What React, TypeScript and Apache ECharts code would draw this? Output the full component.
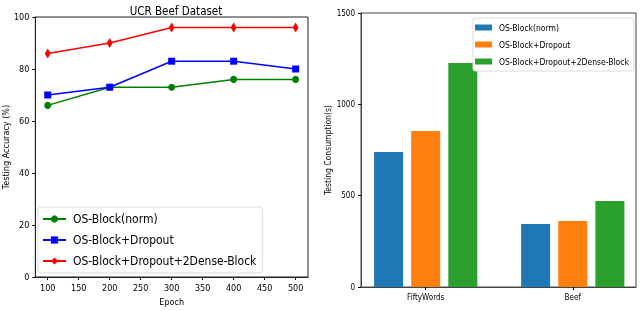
import React, { useEffect, useRef } from "react";
import * as echarts from "echarts";

const epochs = [100, 200, 300, 400, 500];
const normAcc = [66, 73, 73, 76, 76];
const dropoutAcc = [70, 73, 83, 83, 80];
const denseAcc = [86, 90, 96, 96, 96];

const datasets = ["FiftyWords", "Beef"];
const normTime = [739, 345];
const dropoutTime = [854, 361];
const denseTime = [1226, 471];

const seriesNames = [
  "OS-Block(norm)",
  "OS-Block+Dropout",
  "OS-Block+Dropout+2Dense-Block",
];

const FONT = "'DejaVu Sans Condensed', 'Liberation Sans Narrow', 'DejaVu Sans'";

export default function App() {
  const ref = useRef<HTMLDivElement>(null);
  useEffect(() => {
    if (!ref.current) return;
    const chart = echarts.init(ref.current, undefined, { renderer: "svg" });
    const thinDiamond = "path://M0,-10L6,0L0,10L-6,0Z";
    const pair = (xs: number[], ys: number[]) => xs.map((x, i) => [x, ys[i]]);
    const barData = (ys: number[]) => ys.map((y, i) => [i, y]);
    chart.setOption({
      animation: false,
      textStyle: { fontFamily: FONT },
      title: {
        text: "UCR Beef Dataset",
        left: 171,
        textAlign: "center",
        top: 0,
        textStyle: { fontFamily: FONT, fontSize: 11.5, fontWeight: "normal", color: "#000" },
      },
      grid: [
        { left: 34, right: 332, top: 17, bottom: 31, show: true, borderColor: "#222", borderWidth: 1, backgroundColor: "transparent" },
        { left: 361, right: 4, top: 13, bottom: 24, show: true, borderColor: "#444", borderWidth: 1, backgroundColor: "transparent" },
      ],
      xAxis: [
        {
          gridIndex: 0,
          type: "value",
          min: 80,
          max: 520,
          axisLabel: { customValues: [100, 150, 200, 250, 300, 350, 400, 450, 500], fontSize: 9, color: "#000", margin: 6, fontFamily: FONT },
          axisTick: { customValues: [100, 150, 200, 250, 300, 350, 400, 450, 500], show: true, length: 3, lineStyle: { color: "#000" } },
          axisLine: { show: true, onZero: false, lineStyle: { color: "#222" } },
          splitLine: { show: false },
          name: "Epoch",
          nameLocation: "middle",
          nameGap: 20,
          nameTextStyle: { fontSize: 9, color: "#000", fontFamily: FONT },
        },
        {
          gridIndex: 1,
          type: "value",
          min: -0.44,
          max: 1.43,
          axisLabel: {
            customValues: [0, 1],
            fontSize: 8,
            color: "#000",
            margin: 6,
            fontFamily: FONT,
            formatter: (v: number) => datasets[Math.round(v)] ?? "",
          },
          axisTick: { customValues: [0, 1], show: true, length: 3, lineStyle: { color: "#000" } },
          axisLine: { show: true, onZero: false, lineStyle: { color: "#444" } },
          splitLine: { show: false },
        },
      ],
      yAxis: [
        {
          gridIndex: 0,
          type: "value",
          min: 0,
          max: 100,
          interval: 20,
          axisLabel: { fontSize: 9, color: "#000", margin: 6, fontFamily: FONT },
          axisTick: { show: true, length: 3, lineStyle: { color: "#000" } },
          axisLine: { show: true, onZero: false, lineStyle: { color: "#222" } },
          splitLine: { show: false },
          name: "Testing Accuracy (%)",
          nameLocation: "middle",
          nameGap: 23,
          nameTextStyle: { fontSize: 9, color: "#000", fontFamily: FONT },
        },
        {
          gridIndex: 1,
          type: "value",
          min: 0,
          max: 1500,
          interval: 500,
          axisLabel: { fontSize: 8, color: "#000", margin: 6, fontFamily: FONT, formatter: (v: number) => String(v) },
          axisTick: { show: true, length: 3, lineStyle: { color: "#000" } },
          axisLine: { show: true, onZero: false, lineStyle: { color: "#444" } },
          splitLine: { show: false },
          name: "Testing Consumption(s)",
          nameLocation: "middle",
          nameGap: 25,
          nameTextStyle: { fontSize: 8.5, color: "#000", fontFamily: FONT },
        },
      ],
      legend: [
        {
          data: seriesNames.map((n) => n + " "),
          orient: "vertical",
          left: 38,
          top: 207,
          itemWidth: 23,
          itemHeight: 9,
          itemGap: 9,
          padding: [6, 3, 6, 4],
          backgroundColor: "#fff",
          borderColor: "#ddd",
          borderWidth: 1,
          borderRadius: 3,
          textStyle: { fontSize: 12, color: "#000", fontFamily: FONT, padding: [0, 0, 0, 2] },
        },
        {
          data: seriesNames,
          orient: "vertical",
          left: 473,
          top: 18,
          itemWidth: 17,
          itemHeight: 6,
          itemGap: 8,
          icon: "rect",
          padding: [5, 5, 5, 2],
          backgroundColor: "#fff",
          borderColor: "#ddd",
          borderWidth: 1,
          borderRadius: 2,
          textStyle: { fontSize: 8.5, color: "#000", fontFamily: FONT, padding: [0, 0, 0, 2] },
        },
      ],
      series: [
        {
          name: seriesNames[0] + " ",
          type: "line",
          xAxisIndex: 0,
          yAxisIndex: 0,
          data: pair(epochs, normAcc),
          color: "#008000",
          symbol: "circle",
          symbolSize: 7,
          lineStyle: { width: 1.5 },
        },
        {
          name: seriesNames[1] + " ",
          type: "line",
          xAxisIndex: 0,
          yAxisIndex: 0,
          data: pair(epochs, dropoutAcc),
          color: "#0000ff",
          symbol: "rect",
          symbolSize: 7,
          lineStyle: { width: 1.5 },
        },
        {
          name: seriesNames[2] + " ",
          type: "line",
          xAxisIndex: 0,
          yAxisIndex: 0,
          data: pair(epochs, denseAcc),
          color: "#ff0000",
          symbol: thinDiamond,
          symbolSize: [6, 10],
          lineStyle: { width: 1.5 },
        },
        {
          name: seriesNames[0],
          type: "bar",
          xAxisIndex: 1,
          yAxisIndex: 1,
          data: barData(normTime),
          color: "#1f77b4",
          barWidth: 29,
          barGap: "28%",
        },
        {
          name: seriesNames[1],
          type: "bar",
          xAxisIndex: 1,
          yAxisIndex: 1,
          data: barData(dropoutTime),
          color: "#ff7f0e",
          barWidth: 29,
          barGap: "28%",
        },
        {
          name: seriesNames[2],
          type: "bar",
          xAxisIndex: 1,
          yAxisIndex: 1,
          data: barData(denseTime),
          color: "#2ca02c",
          barWidth: 29,
          barGap: "28%",
        },
      ],
    });
    return () => chart.dispose();
  }, []);
  return <div ref={ref} style={{ width: 640, height: 311, position: "fixed", left: 0, top: 0 }} />;
}
